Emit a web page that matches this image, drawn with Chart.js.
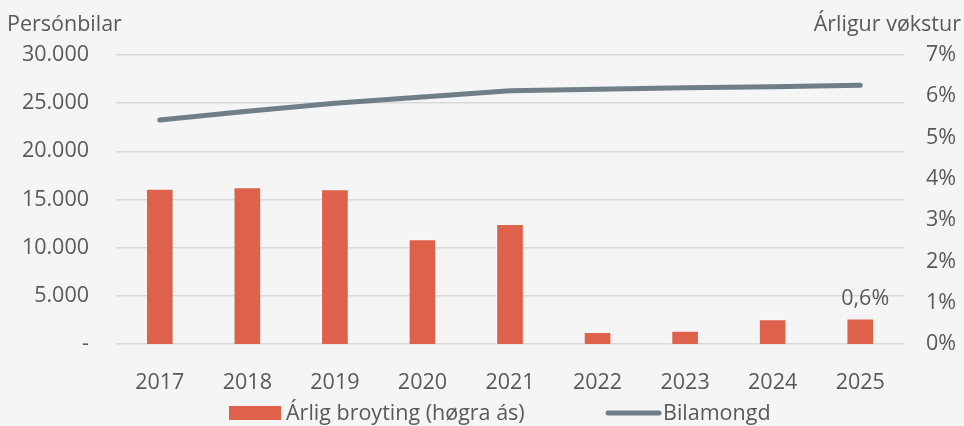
<!DOCTYPE html>
<html>
<head>
<meta charset="utf-8">
<script src="https://cdn.jsdelivr.net/npm/chart.js@4.4.1/dist/chart.umd.min.js"></script>
<style>
  html, body { margin: 0; padding: 0; background: #f5f5f5; }
  #wrap { width: 964px; height: 426px; position: relative; }
</style>
</head>
<body>
<div id="wrap"><canvas id="c" width="964" height="426"></canvas></div>
<script>
// ---- data ----
const categories = ['2017', '2018', '2019', '2020', '2021', '2022', '2023', '2024', '2025'];
const growthPct = [3.75, 3.79, 3.74, 2.53, 2.90, 0.28, 0.31, 0.59, 0.61];      // right axis, %
const carStock = [23250, 24150, 25000, 25650, 26300, 26450, 26600, 26700, 26850]; // left axis
const labeledBars = [8];
const seriesNames = ['Árlig broyting (høgra ás)', 'Bilamongd'];
const leftTitle = 'Persónbilar';
const rightTitle = 'Árligur vøkstur';

const FONT = '"Open Sans", "Noto Sans", sans-serif';
const FS = 21.5;
const TXT = '#595959';
const BAR = '#de614b';
const LINE = '#6f7f88';

const fmtThousands = v => v === 0 ? '-' : String(v).replace(/\B(?=(\d{3})+(?!\d))/g, '.');
const fmtPct1 = v => v.toFixed(1).replace('.', ',') + '%';

const overlay = {
  id: 'overlay',
  afterDraw(chart) {
    const ctx = chart.ctx;
    ctx.save();
    ctx.font = FS + 'px ' + FONT;
    ctx.fillStyle = TXT;
    ctx.textBaseline = 'alphabetic';
    ctx.textAlign = 'left';
    ctx.fillText(leftTitle, 7, 31);
    ctx.textAlign = 'right';
    ctx.fillText(rightTitle, 961, 31);

    // data label
    const meta = chart.getDatasetMeta(0);
    ctx.textAlign = 'center';
    labeledBars.forEach(i => {
      const el = meta.data[i];
      ctx.fillText(fmtPct1(growthPct[i]), el.x + 5, el.y - 14);
    });

    // legend
    ctx.textAlign = 'left';
    ctx.textBaseline = 'middle';
    const ly = 413;
    const ds = chart.data.datasets;
    ctx.fillStyle = ds[0].backgroundColor;
    ctx.fillRect(229, ly - 7, 52, 14);
    ctx.fillStyle = TXT;
    ctx.fillText(ds[0].label, 286, ly + 1);
    ctx.strokeStyle = ds[1].borderColor;
    ctx.lineWidth = 5;
    ctx.lineCap = 'round';
    ctx.beginPath();
    ctx.moveTo(608, ly);
    ctx.lineTo(659, ly);
    ctx.stroke();
    ctx.fillText(ds[1].label, 663, ly + 1);
    ctx.restore();
  }
};

new Chart(document.getElementById('c'), {
  data: {
    labels: categories,
    datasets: [
      {
        type: 'bar',
        label: seriesNames[0],
        data: growthPct,
        yAxisID: 'y1',
        backgroundColor: BAR,
        borderColor: 'rgba(255,255,255,0.35)',
        borderWidth: 1,
        barThickness: 27,
        order: 2
      },
      {
        type: 'line',
        label: seriesNames[1],
        data: carStock,
        yAxisID: 'y',
        borderColor: LINE,
        backgroundColor: LINE,
        borderWidth: 5,
        borderCapStyle: 'round',
        borderJoinStyle: 'round',
        pointRadius: 0,
        tension: 0,
        order: 1
      }
    ]
  },
  options: {
    responsive: false,
    animation: false,
    devicePixelRatio: 1,
    layout: { padding: { top: 55, bottom: 32, left: 0, right: 0 } },
    plugins: { legend: { display: false }, tooltip: { enabled: false } },
    scales: {
      x: {
        grid: { display: false },
        border: { display: false },
        ticks: { color: TXT, font: { family: FONT, size: FS }, padding: 18, maxRotation: 0 },
        afterFit(s) { s.height = 50; }
      },
      y: {
        position: 'left',
        min: 0, max: 30000,
        grid: { color: '#d9d9d9', lineWidth: 1.5, drawTicks: false },
        border: { display: false },
        ticks: { stepSize: 5000, color: TXT, font: { family: FONT, size: FS }, padding: 27, callback: v => fmtThousands(v) },
        afterFit(s) { s.width = 116; }
      },
      y1: {
        position: 'right',
        min: 0, max: 7,
        grid: { display: false, drawTicks: false },
        border: { display: false },
        ticks: { stepSize: 1, color: TXT, font: { family: FONT, size: FS }, padding: 22, callback: v => v + '%' },
        afterFit(s) { s.width = 60; }
      }
    }
  },
  plugins: [overlay]
});
</script>
</body>
</html>
